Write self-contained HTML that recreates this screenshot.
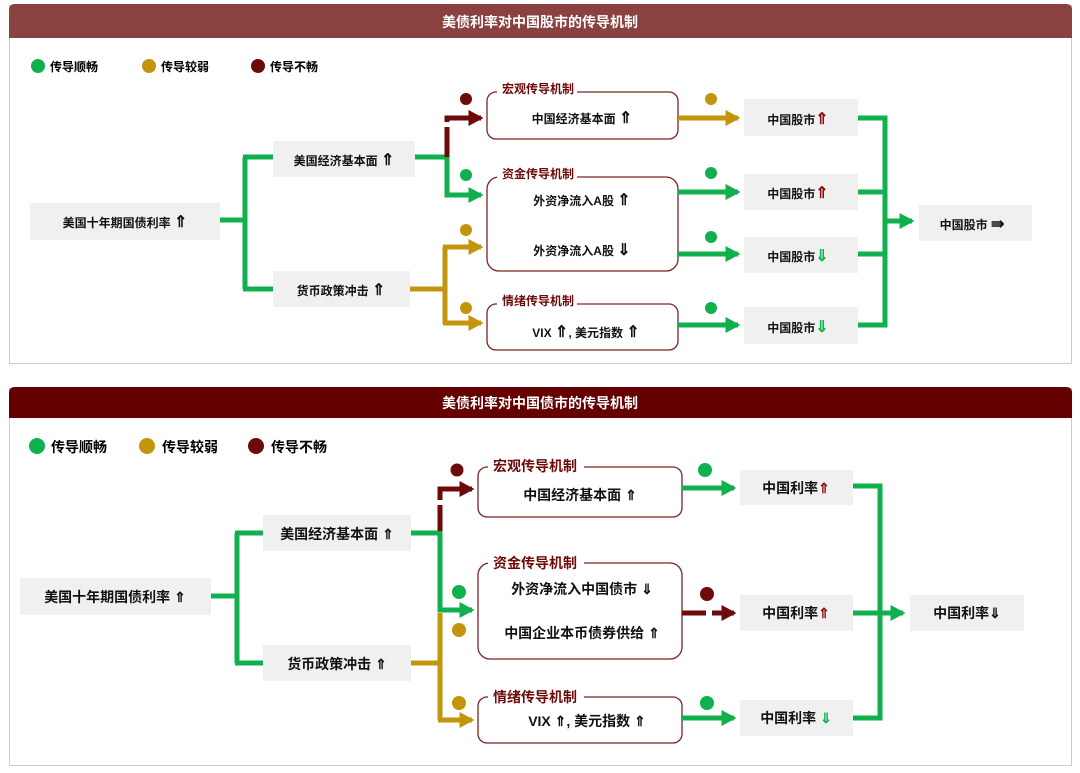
<!DOCTYPE html>
<html><head><meta charset="utf-8"><style>
html,body{margin:0;padding:0;background:#fff;width:1080px;height:773px;overflow:hidden}
text{font-family:"Liberation Sans","Noto Sans CJK SC",sans-serif;font-weight:bold}
.a{font-size:16px}
</style></head><body>
<svg width="1080" height="773" viewBox="0 0 1080 773" xmlns="http://www.w3.org/2000/svg">
<defs>
<marker id="ag" markerWidth="4" markerHeight="4" refX="2.5" refY="2" orient="auto" markerUnits="strokeWidth"><path d="M0,0.4 L3,2 L0,3.6z" fill="#11b04f"/></marker>
<marker id="ay" markerWidth="4" markerHeight="4" refX="2.5" refY="2" orient="auto" markerUnits="strokeWidth"><path d="M0,0.4 L3,2 L0,3.6z" fill="#c3950c"/></marker>
<marker id="ar" markerWidth="4" markerHeight="4" refX="2.5" refY="2" orient="auto" markerUnits="strokeWidth"><path d="M0,0.4 L3,2 L0,3.6z" fill="#6e0a0a"/></marker>
</defs>
<!-- TOP PANEL -->
<rect x="9.5" y="5.5" width="1062" height="358" fill="#fff" stroke="#ccc"/>
<path d="M9,38 V10 Q9,4 15,4 H1066 Q1072,4 1072,10 V38z" fill="#8a4240"/>
<text x="540" y="27" font-size="14" fill="#fff" text-anchor="middle">美债利率对中国股市的传导机制</text>
<g font-size="12">
<circle cx="38" cy="66" r="7" fill="#11b04f"/><text x="50" y="71">传导顺畅</text>
<circle cx="149" cy="66" r="7" fill="#c3950c"/><text x="161" y="71">传导较弱</text>
<circle cx="258" cy="66" r="7" fill="#6e0a0a"/><text x="270" y="71">传导不畅</text>
</g>
<g fill="#f0f0f0">
<rect x="30" y="203" width="190" height="37"/><rect x="273" y="141" width="142" height="36"/><rect x="273" y="271" width="137" height="36"/>
<rect x="744" y="99" width="114" height="37"/><rect x="744" y="174" width="114" height="36"/><rect x="744" y="237" width="114" height="36"/><rect x="744" y="307" width="114" height="37"/>
<rect x="919" y="205" width="113" height="36"/>
</g>
<g fill="#fff" stroke="#7a2424" stroke-width="1.3">
<rect x="487" y="92" width="191" height="47" rx="9"/><rect x="487" y="177" width="191" height="94" rx="12"/><rect x="487" y="304" width="191" height="46" rx="9"/>
</g>
<g fill="#fff"><rect x="497" y="84" width="80" height="12"/><rect x="497" y="169" width="80" height="12"/><rect x="497" y="296" width="80" height="12"/></g>
<g font-size="12" fill="#6e0a0a"><text x="502" y="93">宏观传导机制</text><text x="502" y="178">资金传导机制</text><text x="502" y="305">情绪传导机制</text></g>
<g font-size="12" fill="#111" text-anchor="middle">
<text x="125" y="227">美国十年期国债利率 <tspan class="a">⇑</tspan></text><text x="344" y="165">美国经济基本面 <tspan class="a">⇑</tspan></text><text x="341" y="295">货币政策冲击 <tspan class="a">⇑</tspan></text>
<text x="582" y="123">中国经济基本面 <tspan class="a">⇑</tspan></text><text x="582" y="205">外资净流入A股 <tspan class="a">⇑</tspan></text><text x="582" y="255">外资净流入A股 <tspan class="a">⇓</tspan></text><text x="586" y="337">VIX <tspan class="a">⇑</tspan>, 美元指数 <tspan class="a">⇑</tspan></text>
<text x="798" y="124">中国股市<tspan class="a" fill="#8a1010">⇑</tspan></text><text x="798" y="198">中国股市<tspan class="a" fill="#8a1010">⇑</tspan></text>
<text x="798" y="261">中国股市<tspan class="a" fill="#11b04f">⇓</tspan></text><text x="798" y="332">中国股市<tspan class="a" fill="#11b04f">⇓</tspan></text>
<text x="972" y="229">中国股市 <tspan class="a">⇛</tspan></text>
</g>
<g fill="none" stroke-width="5">
<path d="M220,220 H245 M245,157 V289 M243,157 H273 M243,289 H273" stroke="#11b04f"/>
<path d="M415,157 H447 V195 H481" stroke="#11b04f" marker-end="url(#ag)"/>
<path d="M447,157 V127" stroke="#6e0a0a"/>
<path d="M447,122 V118 H481" stroke="#6e0a0a" marker-end="url(#ar)"/>
<path d="M410,289 H445 M445,247 V324" stroke="#c3950c"/>
<path d="M443,247 H481" stroke="#c3950c" marker-end="url(#ay)"/>
<path d="M443,323 H481" stroke="#c3950c" marker-end="url(#ay)"/>
<path d="M678,118 H738" stroke="#c3950c" marker-end="url(#ay)"/>
<path d="M678,192 H738" stroke="#11b04f" marker-end="url(#ag)"/>
<path d="M678,254 H738" stroke="#11b04f" marker-end="url(#ag)"/>
<path d="M678,325 H738" stroke="#11b04f" marker-end="url(#ag)"/>
<path d="M858,118 H885 V325 H858 M858,192 H885 M858,254 H885" stroke="#11b04f"/>
<path d="M885,221 H912" stroke="#11b04f" marker-end="url(#ag)"/>
</g>
<circle cx="466" cy="99" r="6" fill="#6e0a0a"/><circle cx="466" cy="175" r="6" fill="#11b04f"/><circle cx="466" cy="230" r="6" fill="#c3950c"/><circle cx="466" cy="308" r="6" fill="#c3950c"/>
<circle cx="711" cy="99" r="6" fill="#c3950c"/><circle cx="711" cy="173" r="6" fill="#11b04f"/><circle cx="711" cy="237" r="6" fill="#11b04f"/><circle cx="711" cy="308" r="6" fill="#11b04f"/>

<!-- BOTTOM PANEL -->
<rect x="9.5" y="388.5" width="1062" height="377" fill="#fff" stroke="#ccc"/>
<path d="M9,418 V393 Q9,387 15,387 H1066 Q1072,387 1072,393 V418z" fill="#650000"/>
<text x="540" y="408" font-size="14" fill="#fff" text-anchor="middle">美债利率对中国债市的传导机制</text>
<g font-size="14">
<circle cx="37" cy="446" r="8" fill="#11b04f"/><text x="51" y="452">传导顺畅</text>
<circle cx="147" cy="446" r="8" fill="#c3950c"/><text x="162" y="452">传导较弱</text>
<circle cx="256" cy="446" r="8" fill="#6e0a0a"/><text x="271" y="452">传导不畅</text>
</g>
<g fill="#f0f0f0">
<rect x="20" y="578" width="191" height="37"/><rect x="263" y="515" width="148" height="36"/><rect x="263" y="645" width="148" height="36"/>
<rect x="740" y="470" width="113" height="35"/><rect x="740" y="595" width="113" height="36"/><rect x="740" y="700" width="113" height="36"/>
<rect x="910" y="595" width="114" height="36"/>
</g>
<g fill="#fff" stroke="#7a2424" stroke-width="1.3">
<rect x="478" y="467" width="204" height="50" rx="9"/><rect x="478" y="563" width="204" height="96" rx="12"/><rect x="478" y="697" width="204" height="46" rx="9"/>
</g>
<g fill="#fff"><rect x="488" y="458" width="96" height="14"/><rect x="488" y="555" width="96" height="14"/><rect x="488" y="689" width="96" height="14"/></g>
<g font-size="14" fill="#6e0a0a"><text x="493" y="471">宏观传导机制</text><text x="493" y="568">资金传导机制</text><text x="493" y="702">情绪传导机制</text></g>
<g font-size="14" fill="#111" text-anchor="middle">
<text x="115" y="602">美国十年期国债利率 ⇑</text><text x="337" y="539">美国经济基本面 ⇑</text><text x="337" y="669">货币政策冲击 ⇑</text>
<text x="580" y="500">中国经济基本面 ⇑</text><text x="582" y="594">外资净流入中国债市 ⇓</text><text x="582" y="638">中国企业本币债券供给 ⇑</text><text x="587" y="726">VIX ⇑, 美元指数 ⇑</text>
<text x="796" y="493">中国利率<tspan fill="#8a1010">⇑</tspan></text><text x="796" y="618">中国利率<tspan fill="#8a1010">⇑</tspan></text><text x="796" y="723">中国利率 <tspan fill="#11b04f">⇓</tspan></text>
<text x="967" y="618">中国利率⇓</text>
</g>
<g fill="none" stroke-width="5">
<path d="M211,596 H237 M237,533 V663 M235,533 H263 M235,663 H263" stroke="#11b04f"/>
<path d="M411,533 H440 V610 H472" stroke="#11b04f" marker-end="url(#ag)"/>
<path d="M440,531 V505" stroke="#6e0a0a"/>
<path d="M440,500 V489 H472" stroke="#6e0a0a" marker-end="url(#ar)"/>
<path d="M411,663 H440 M440,613 V720" stroke="#c3950c"/>
<path d="M438,720 H472" stroke="#c3950c" marker-end="url(#ay)"/>
<path d="M682,488 H734" stroke="#11b04f" marker-end="url(#ag)"/>
<path d="M682,718 H734" stroke="#11b04f" marker-end="url(#ag)"/>
<path d="M682,613 H706" stroke="#6e0a0a"/>
<path d="M712,613 H734" stroke="#6e0a0a" marker-end="url(#ar)"/>
<path d="M853,486 H880 V718 H853 M853,613 H880" stroke="#11b04f"/>
<path d="M880,613 H903" stroke="#11b04f" marker-end="url(#ag)"/>
</g>
<circle cx="457" cy="470" r="6.5" fill="#6e0a0a"/><circle cx="459" cy="592" r="7" fill="#11b04f"/><circle cx="459" cy="630" r="7" fill="#c3950c"/><circle cx="459" cy="703" r="7" fill="#c3950c"/>
<circle cx="705" cy="470" r="7" fill="#11b04f"/><circle cx="707" cy="594" r="7" fill="#6e0a0a"/><circle cx="707" cy="703" r="7" fill="#11b04f"/>
</svg>
</body></html>
